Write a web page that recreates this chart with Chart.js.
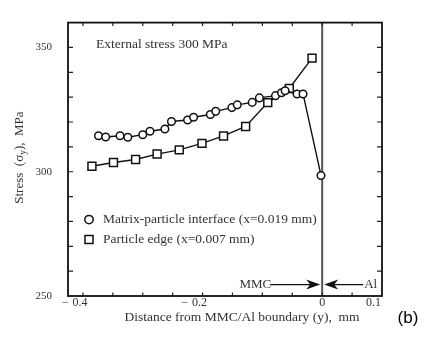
<!DOCTYPE html>
<html><head><meta charset="utf-8">
<script src="https://cdn.jsdelivr.net/npm/chart.js@4/dist/chart.umd.min.js"></script>
<style>html,body{margin:0;padding:0;background:#fff;}canvas{display:block;}</style>
</head><body>
<canvas id="c" width="433" height="338"></canvas>
<script>
// ---- data ----
const circleX = [-0.374,-0.362,-0.338,-0.325,-0.300,-0.288,-0.263,-0.252,-0.225,-0.215,-0.187,-0.178,-0.151,-0.142,-0.117,-0.105,-0.078,-0.068,-0.062,-0.042,-0.032,-0.002];
const circleY = [314.5,314.0,314.5,313.9,314.9,316.3,317.2,320.2,320.8,321.9,323.0,324.3,325.8,326.9,327.9,329.7,330.6,331.8,332.6,331.3,331.3,298.5];
const squareX = [-0.385,-0.349,-0.312,-0.276,-0.239,-0.201,-0.165,-0.128,-0.091,-0.055,-0.017];
const squareY = [302.2,303.7,304.9,307.1,308.8,311.4,314.4,318.2,327.8,333.5,345.7];
const seriesNames = ['Matrix-particle interface (x=0.019 mm)','Particle edge (x=0.007 mm)'];
const xTickMarks = [-0.4,-0.35,-0.3,-0.25,-0.2,-0.15,-0.1,-0.05,0,0.05];
const yTickMarks = [260,270,280,290,300,310,320,330,340,350];
const xLabelValues = [-0.4,-0.2,0,0.1];
const xLabelTexts = ['− 0.4','− 0.2','0','0.1'];
const yLabelValues = [250,300,350];
const xRange = [-0.425,0.1];
const yRange = [250,360];
const boundaryX = 0;
const annotationText = 'External stress 300 MPa';
const xTitle = 'Distance from MMC/Al boundary (y),  mm';
const yTitleParts = ['Stress  (σ','y','),  MPa'];
const leftRegion = 'MMC', rightRegion = 'Al', panelLabel = '(b)';

const serif = '"Liberation Serif", "DejaVu Serif", serif';
const textCol = '#333';

const deco = {
  id:'deco',
  beforeDatasetsDraw(chart){
    const {ctx, chartArea:a, scales:{x,y}} = chart;
    ctx.save();
    ctx.strokeStyle = '#555'; ctx.lineWidth = 2;
    const bx = x.getPixelForValue(boundaryX);
    ctx.beginPath(); ctx.moveTo(bx,a.top); ctx.lineTo(bx,a.bottom); ctx.stroke();
    ctx.strokeStyle = '#222'; ctx.lineWidth = 1.2;
    ctx.beginPath();
    xTickMarks.forEach(v=>{const p=x.getPixelForValue(v);
      ctx.moveTo(p,a.bottom); ctx.lineTo(p,a.bottom-3.5);
      ctx.moveTo(p,a.top); ctx.lineTo(p,a.top+3.5);});
    yTickMarks.forEach(v=>{const p=y.getPixelForValue(v);
      ctx.moveTo(a.left,p); ctx.lineTo(a.left+5,p);
      ctx.moveTo(a.right,p); ctx.lineTo(a.right-5,p);});
    ctx.stroke();
    ctx.lineWidth = 1.8; ctx.strokeStyle='#111';
    ctx.strokeRect(a.left,a.top,a.right-a.left,a.bottom-a.top);
    ctx.restore();
  },
  afterDraw(chart){
    const {ctx, chartArea:a, scales:{x,y}} = chart;
    ctx.save();
    ctx.fillStyle = textCol;
    ctx.font = '12px '+serif; ctx.textBaseline='middle';
    xLabelValues.forEach((v,i)=>{
      const p = x.getPixelForValue(v), t = xLabelTexts[i], ly = a.bottom+6.5;
      if (v >= xRange[1]) { ctx.textAlign='right'; ctx.fillText(t,p-1,ly); return; }
      if (t.startsWith('−')) {
        const num = t.replace('−','').trim(); const w = ctx.measureText(num).width;
        ctx.textAlign='center'; ctx.fillText(num,p-3,ly);
        ctx.textAlign='right'; ctx.fillText('−',p-3-w/2-4,ly);
      } else { ctx.textAlign='center'; ctx.fillText(t,p,ly); }
    });
    ctx.font = '13.5px '+serif; ctx.textAlign='center';
    ctx.fillText(xTitle,(a.left+a.right)/2+17,a.bottom+21);
    ctx.fillStyle='#000'; ctx.font='17px "Liberation Sans", Arial, sans-serif';
    ctx.fillText(panelLabel,a.right+26,a.bottom+22);
    ctx.fillStyle=textCol;
    ctx.save(); ctx.translate(20,a.top+135); ctx.rotate(-Math.PI/2);
    const f1='13px '+serif, f2='9.5px '+serif;
    ctx.font=f1; const w0=ctx.measureText(yTitleParts[0]).width, w2=ctx.measureText(yTitleParts[2]).width;
    ctx.font=f2; const w1=ctx.measureText(yTitleParts[1]).width;
    let sx = -(w0+w1+w2)/2; ctx.textAlign='left';
    ctx.font=f1; ctx.fillText(yTitleParts[0],sx,0); sx+=w0;
    ctx.font=f2; ctx.fillText(yTitleParts[1],sx,3.5); sx+=w1;
    ctx.font=f1; ctx.fillText(yTitleParts[2],sx,0);
    ctx.restore();
    ctx.font='13.5px '+serif; ctx.textAlign='left';
    ctx.fillText(annotationText,a.left+28,a.top+22);
    const lx=a.left+21, ly1=a.top+197, ly2=a.top+217;
    ctx.strokeStyle='#111'; ctx.lineWidth=1.5; ctx.fillStyle='#fff';
    ctx.beginPath(); ctx.arc(lx,ly1,4.2,0,Math.PI*2); ctx.fill(); ctx.stroke();
    ctx.beginPath(); ctx.rect(lx-4,ly2-4,8,8); ctx.fill(); ctx.stroke();
    ctx.fillStyle=textCol; ctx.font='13.5px '+serif;
    ctx.fillText(seriesNames[0],lx+14,ly1);
    ctx.fillText(seriesNames[1],lx+14,ly2);
    const bx=x.getPixelForValue(boundaryX), ay=a.top+262;
    ctx.font='13px '+serif; ctx.textAlign='right';
    ctx.fillText(leftRegion,bx-51,ay);
    ctx.textAlign='left'; ctx.fillText(rightRegion,bx+42,ay);
    ctx.strokeStyle='#111'; ctx.fillStyle='#111'; ctx.lineWidth=1.4;
    ctx.beginPath(); ctx.moveTo(bx-52,ay); ctx.lineTo(bx-8,ay);
    ctx.moveTo(bx+8,ay); ctx.lineTo(bx+41,ay); ctx.stroke();
    ctx.beginPath(); ctx.moveTo(bx-2,ay); ctx.lineTo(bx-16,ay-5); ctx.lineTo(bx-12,ay); ctx.lineTo(bx-16,ay+5); ctx.closePath(); ctx.fill();
    ctx.beginPath(); ctx.moveTo(bx+2,ay); ctx.lineTo(bx+16,ay-5); ctx.lineTo(bx+12,ay); ctx.lineTo(bx+16,ay+5); ctx.closePath(); ctx.fill();
    ctx.restore();
  }
};

const toPts = (xs,ys)=>xs.map((v,i)=>({x:v,y:ys[i]}));
new Chart(document.getElementById('c'),{
  type:'scatter',
  data:{datasets:[
    {label:seriesNames[0],data:toPts(circleX,circleY),showLine:true,borderColor:'#111',borderWidth:1.4,
     pointStyle:'circle',pointRadius:3.8,pointBorderWidth:1.5,pointBackgroundColor:'#fff',pointBorderColor:'#111'},
    {label:seriesNames[1],data:toPts(squareX,squareY),showLine:true,borderColor:'#111',borderWidth:1.4,
     pointStyle:'rect',pointRadius:5.6,pointBorderWidth:1.5,pointBackgroundColor:'#fff',pointBorderColor:'#111'}
  ]},
  options:{
    responsive:false,animation:false,
    layout:{padding:{left:0,right:51,top:10,bottom:0}},
    plugins:{legend:{display:false},tooltip:{enabled:false}},
    scales:{
      x:{type:'linear',min:xRange[0],max:xRange[1],
         grid:{display:false},border:{display:false},
         ticks:{display:false},
         afterFit:s=>{s.height=42;}},
      y:{type:'linear',min:yRange[0],max:yRange[1],
         grid:{display:false,drawTicks:false},border:{display:false},
         afterBuildTicks:s=>{s.ticks=yLabelValues.map(v=>({value:v}));},
         ticks:{padding:16,color:textCol,font:{family:serif,size:11}},
         afterFit:s=>{s.width=68;}}
    }
  },
  plugins:[deco]
});
</script>
</body></html>
